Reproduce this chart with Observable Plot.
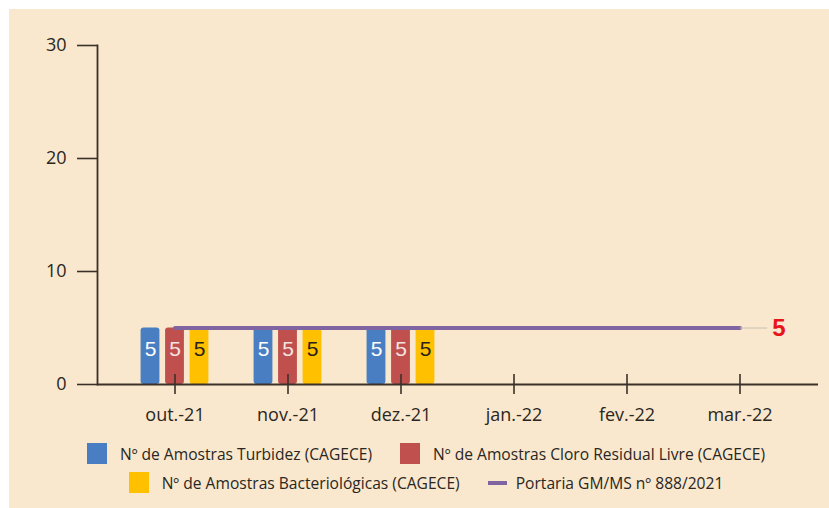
<!DOCTYPE html>
<html><head><meta charset="utf-8">
<script src="https://cdn.jsdelivr.net/npm/d3@7"></script>
<script src="https://cdn.jsdelivr.net/npm/@observablehq/plot@0.6"></script>
<style>
html,body{margin:0;padding:0;background:#fff;}
#panel{position:absolute;left:9px;top:9px;width:820px;height:499px;background:#F9E8CD;font-family:"Open Sans",sans-serif;overflow:hidden;}
#chart svg{display:block;background:transparent;}
.legend{position:absolute;left:0;top:430px;width:820px;padding-left:14px;box-sizing:border-box;}
.row{display:flex;justify-content:center;align-items:center;height:29px;font-size:15.6px;color:#2a2622;white-space:nowrap;}
.item{display:flex;align-items:center;margin:0 14px;}
.sw{width:20px;height:21px;margin-right:13px;}
.ln{width:19px;height:4px;margin-right:9px;}
</style></head>
<body>
<div id="panel"><div id="chart"></div><div class="legend" id="legend"></div></div>
<script>
// ---- data ----
const months = ["out.-21", "nov.-21", "dez.-21", "jan.-22", "fev.-22", "mar.-22"];
const turbidez = [5, 5, 5, null, null, null];
const cloro = [5, 5, 5, null, null, null];
const bacteriologicas = [5, 5, 5, null, null, null];
const portaria = [5, 5, 5, 5, 5, 5];
const yTicks = [0, 10, 20, 30];
const seriesNames = [
  "Nº de Amostras Turbidez (CAGECE)",
  "Nº de Amostras Cloro Residual Livre (CAGECE)",
  "Nº de Amostras Bacteriológicas (CAGECE)",
  "Portaria GM/MS nº 888/2021"
];
const portariaLabel = "5";

// ---- styles ----
const colors = ["#4A7EC2", "#C0504D", "#FFC000", "#8064A2"];
const labelFill = ["#ffffff", "#f4e4e2", "#2a2218"];
const axisColor = "#3A3128";
const W = 820, H = 425;
const mL = 88, mR = 11, mT = 36, mB = 50;
const pIn = 0.3, pOut = 0.318;
const step = (W - mL - mR) / (months.length - pIn + 2 * pOut);
const bw = step * (1 - pIn);
const barW = 19.5, off = 24.5;
const ins = (bw - barW) / 2;

const seriesVals = [turbidez, cloro, bacteriologicas];
const barMarks = [];
seriesVals.forEach((vals, s) => {
  const rows = months.map((m, i) => ({m, v: vals[i]})).filter(d => d.v != null);
  barMarks.push(Plot.barY(rows, {x: "m", y: "v", fill: colors[s], insetLeft: ins, insetRight: ins, dx: (s - 1) * off, rx: 3}));
});
const textMarks = [];
seriesVals.forEach((vals, s) => {
  const rows = months.map((m, i) => ({m, v: vals[i]})).filter(d => d.v != null);
  textMarks.push(Plot.text(rows, {x: "m", y: "v", text: d => String(d.v), dx: (s - 1) * off, dy: 21,
    fill: labelFill[s], fontSize: 21, fontFamily: "Liberation Sans, Arial, sans-serif"}));
});
const portRows = months.map((m, i) => ({m, v: portaria[i]}));
const lastPort = [portRows[portRows.length - 1]];

const chart = Plot.plot({
  width: W, height: H,
  marginLeft: mL, marginRight: mR, marginTop: mT, marginBottom: mB,
  style: {background: "transparent", fontFamily: "Open Sans, sans-serif", color: "#2a2622"},
  x: {type: "band", domain: months, paddingInner: pIn, paddingOuter: pOut, label: null},
  y: {domain: [0, 30], label: null},
  marks: [
    ...barMarks,
    Plot.frame({anchor: "left", stroke: axisColor, strokeWidth: 1.8}),
    Plot.axisY({ticks: yTicks, tickSize: 20, tickPadding: 11, fontSize: 18, stroke: axisColor, strokeWidth: 1.6, label: null}),
    Plot.axisX({tickSize: 20, dy: -10, tickPadding: 14, fontSize: 18, stroke: axisColor, strokeWidth: 1.6, label: null}),
    Plot.ruleY([0], {stroke: axisColor, strokeWidth: 1.8}),
    Plot.lineY(portRows, {x: "m", y: "v", stroke: colors[3], strokeWidth: 4, strokeLinecap: "round"}),
    ...textMarks,
    Plot.tickY(lastPort, {x: "m", y: "v", stroke: "#c8c0b4", strokeWidth: 1, insetLeft: bw / 2, insetRight: bw / 2 - 28}),
    Plot.text(lastPort, {x: "m", y: "v", text: () => portariaLabel, dx: 39, fill: "#E8141B", fontWeight: "bold", fontSize: 24, fontFamily: "Liberation Sans, Arial, sans-serif"})
  ]
});
document.getElementById("chart").appendChild(chart);

// ---- legend ----
const legend = document.getElementById("legend");
const rowsSpec = [[0, 1], [2, 3]];
rowsSpec.forEach(idx => {
  const row = document.createElement("div");
  row.className = "row";
  idx.forEach(i => {
    const it = document.createElement("div");
    it.className = "item";
    const sw = document.createElement("div");
    sw.className = i === 3 ? "ln" : "sw";
    sw.style.background = colors[i];
    const tx = document.createElement("span");
    tx.textContent = seriesNames[i];
    it.appendChild(sw); it.appendChild(tx);
    row.appendChild(it);
  });
  legend.appendChild(row);
});
</script>
</body></html>
